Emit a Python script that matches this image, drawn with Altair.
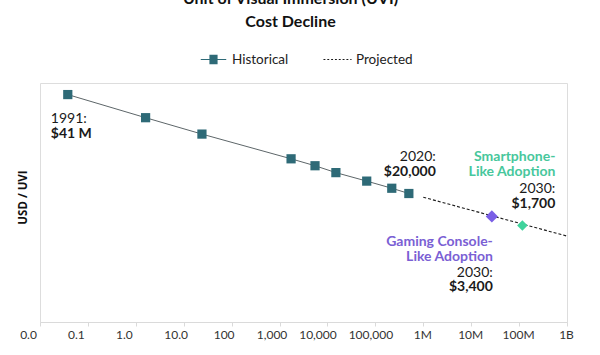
import altair as alt
import pandas as pd

# ---------------- data ----------------
hist_units = [0.038, 1.6, 24, 1740, 5500, 15000, 66000, 220000, 500000]
hist_cost = [41e6, 6.9e6, 1.95e6, 2.9e5, 1.7e5, 1.0e5, 5.2e4, 3.0e4, 2.0e4]

proj_units = [1e6, 1e9]
proj_cost = [15000, 750]

scen_names = ["Gaming Console", "Smartphone"]
scen_units = [2.7e7, 1.17e8]
scen_cost = [3400, 1700]

series_names = ["Historical", "Projected"]

x_ticks = [0.01, 0.1, 1, 10, 100, 1e3, 1e4, 1e5, 1e6, 1e7, 1e8, 1e9]
x_labels = ["0.0", "0.1", "1.0", "10.0", "100", "1,000", "10,000", "100,000",
            "1M", "10M", "100M", "1B"]

title_lines = ["Unit of Visual Immersion (UVI)", "Cost Decline"]

# ---------------- styles ----------------
FONT = "Lato"
TEAL = "#2e6a77"
LINE_GREY = "#5d6669"
PURPLE = "#7a5fe6"
GREEN = "#3fd39c"
GREEN_TXT = "#47c79c"
PURPLE_TXT = "#7a60d4"
DARK = "#1a1a1a"

hist_df = pd.DataFrame({"units": hist_units, "cost": hist_cost, "series": series_names[0]})
proj_df = pd.DataFrame({"units": proj_units, "cost": proj_cost, "series": series_names[1]})
scen_df = pd.DataFrame({"name": scen_names, "units": scen_units, "cost": scen_cost})

label_expr = "[{}][indexof([{}], datum.value)]".format(
    ",".join("'" + s + "'" for s in x_labels),
    ",".join(repr(float(v)) for v in x_ticks),
)

x_enc = alt.X(
    "units:Q",
    scale=alt.Scale(type="log", domain=[x_ticks[0], x_ticks[-1]], nice=False),
    axis=alt.Axis(
        values=x_ticks,
        labelExpr=label_expr,
        title=None,
        grid=False,
        domainColor="#dadada",
        tickColor="#dadada",
        tickSize=4,
        labelFont=FONT,
        labelFontSize=12,
        labelColor="#333333",
        labelPadding=3,
        labelFlush=False,
        labelOverlap=False,
        labelOffset={
            "condition": [
                {"test": "datum.value <= 1", "value": -12},
                {"test": "datum.value <= 1000", "value": -8},
                {"test": "datum.value <= 10000", "value": -10},
                {"test": "datum.value <= 100000", "value": -5},
            ],
            "value": -1,
        },
    ),
)
y_enc = alt.Y(
    "cost:Q",
    scale=alt.Scale(type="log", domain=[1, 1e8], nice=False),
    axis=alt.Axis(
        labels=False,
        ticks=False,
        domain=False,
        grid=False,
        title="USD / UVI",
        titleFont="Open Sans",
        titleFontSize=11.5,
        titleFontWeight="bold",
        titleColor="#111111",
        titlePadding=12,
        titleY=114,
    ),
)

hist_line = alt.Chart(hist_df).mark_line(color=LINE_GREY, strokeWidth=1).encode(x=x_enc, y=y_enc)
proj_line = alt.Chart(proj_df).mark_line(color=DARK, strokeWidth=1.1, strokeDash=[3, 2]).encode(
    x=x_enc, y=y_enc
)

# legend symbols: a line with a solid square (drawn as stacked strokes), and a dashed line
sq_rows = "".join("M-0.32,{0:.3f}H0.32".format(-0.32 + 0.02 * i) for i in range(33))
hist_path = "M-1,0H-0.32M0.32,0H1" + sq_rows
proj_path = ("M-1.1,0H-0.95M-0.8,0H-0.65M-0.5,0H-0.35M-0.2,0H-0.05"
             "M0.1,0H0.25M0.4,0H0.55M0.7,0H0.85M1.0,0H1.1")

legend_def = alt.Legend(
    title=None,
    orient="none",
    legendX=160,
    legendY=-37,
    direction="horizontal",
    symbolSize=650,
    symbolStrokeWidth=1.1,
    symbolOpacity=1,
    labelFont=FONT,
    labelFontSize=13.5,
    labelColor="#222222",
    labelOffset=5,
    columnPadding=32,
)

legend_layer = alt.Chart(hist_df).mark_point(filled=False, size=0, opacity=1).encode(
    x=x_enc,
    y=y_enc,
    shape=alt.Shape(
        "series:N",
        scale=alt.Scale(domain=series_names, range=[hist_path, proj_path]),
        legend=legend_def,
    ),
    color=alt.Color(
        "series:N",
        scale=alt.Scale(domain=series_names, range=[TEAL, DARK]),
        legend=legend_def,
    ),
)

squares = alt.Chart(hist_df).mark_point(shape="square", filled=True, size=85, color=TEAL, opacity=1).encode(
    x=x_enc, y=y_enc
)

gaming_df = scen_df[scen_df["name"] == scen_names[0]]
smart_df = scen_df[scen_df["name"] == scen_names[1]]

gaming_pt = alt.Chart(gaming_df).mark_point(shape="diamond", filled=True, size=150, color=PURPLE, opacity=1).encode(
    x=x_enc, y=y_enc
)
smart_pt = alt.Chart(smart_df).mark_point(shape="diamond", filled=True, size=110, color=GREEN, opacity=1).encode(
    x=x_enc, y=y_enc
)


def label(df, text, dx, dy, align, color=DARK, bold=False, size=14):
    return alt.Chart(df).mark_text(
        text=text,
        dx=dx,
        dy=dy,
        align=align,
        baseline="middle",
        font=FONT,
        fontSize=size,
        fontWeight="bold" if bold else "normal",
        color=color,
    ).encode(x=x_enc, y=y_enc)


first_df = hist_df.iloc[[0]]
last_df = hist_df.iloc[[-1]]

annotations = [
    label(first_df, "1991:", -17, 24, "left"),
    label(first_df, "$41 M", -17, 39, "left", bold=True),
    label(last_df, "2020:", 27, -37, "right"),
    label(last_df, "$20,000", 27, -22, "right", bold=True),
    label(smart_df, "Smartphone-", 33, -68, "right", color=GREEN_TXT, bold=True),
    label(smart_df, "Like Adoption", 33, -53, "right", color=GREEN_TXT, bold=True),
    label(smart_df, "2030:", 33, -36, "right"),
    label(smart_df, "$1,700", 33, -21, "right", bold=True),
    label(gaming_df, "Gaming Console-", 1, 26, "right", color=PURPLE_TXT, bold=True),
    label(gaming_df, "Like Adoption", 1, 41, "right", color=PURPLE_TXT, bold=True),
    label(gaming_df, "2030:", 1, 57, "right"),
    label(gaming_df, "$3,400", 1, 71, "right", bold=True),
]

chart = alt.layer(
    hist_line, proj_line, legend_layer, squares, gaming_pt, smart_pt, *annotations
).properties(
    width=527,
    height=239,
    autosize=alt.AutoSizeParams(type="none"),
    padding={"left": 40, "top": 83, "right": 33, "bottom": 33},
    title=alt.TitleParams(
        text=title_lines,
        font=FONT,
        fontSize=16,
        fontWeight="bold",
        color="#111111",
        anchor="middle",
        frame="group",
        lineHeight=23,
        baseline="bottom",
        offset=0,
        dx=-13,
    ),
).configure_view(
    stroke="#e2e2e2", strokeWidth=1
).configure(background="white")

chart.save("out.html", embed_options={"renderer": "svg", "actions": False})
